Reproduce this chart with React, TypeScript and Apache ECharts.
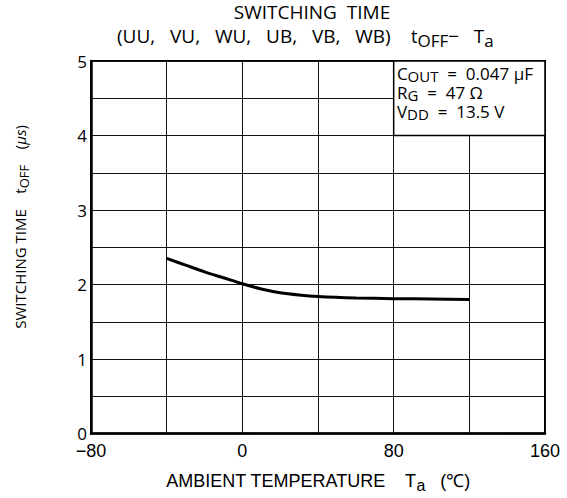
import React, { useEffect, useRef } from "react";
import * as echarts from "echarts";

const temps = [-40, -30, -20, -10, 0, 10, 20, 30, 40, 60, 80, 100, 120];
const toffValues = [2.35, 2.26, 2.17, 2.09, 2.01, 1.94, 1.89, 1.86, 1.84, 1.82, 1.81, 1.805, 1.8];
const xTickLabels = [-80, 0, 80, 160];
const yTickLabels = [0, 1, 2, 3, 4, 5];
const conditionBox = { x0: 80, x1: 160, y0: 4, y1: 5 };

export default function App() {
  const ref = useRef<HTMLDivElement>(null);
  useEffect(() => {
    if (!ref.current) return;
    const chart = echarts.init(ref.current, null, { renderer: "svg" });
    const font = "Open Sans";
    const sans = "Liberation Sans";
    chart.setOption({
      animation: false,
      backgroundColor: "#fff",
      grid: {
        left: 91,
        top: 61,
        right: 22,
        bottom: 57,
        show: true,
        borderColor: "#000",
        borderWidth: 2,
        backgroundColor: "transparent",
      },
      xAxis: {
        type: "value",
        min: -80,
        max: 160,
        interval: 40,
        axisLine: { show: true, onZero: false, lineStyle: { color: "#000", width: 2.5 } },
        axisTick: { show: false },
        splitLine: { show: true, lineStyle: { color: "#111", width: 1 } },
        axisLabel: {
          color: "#000",
          fontFamily: sans,
          fontSize: 18,
          margin: 8,
          formatter: (v: number) =>
            xTickLabels.includes(v) ? String(v).replace("-", "−") : "",
        },
        name: "{m|AMBIENT TEMPERATURE    T}{s|a}{m|   (℃)}",
        nameLocation: "middle",
        nameGap: 36,
        nameTextStyle: {
          rich: {
            m: { fontFamily: sans, fontSize: 18, color: "#000", lineHeight: 22 },
            s: { fontFamily: sans, fontSize: 16, color: "#000", lineHeight: 22, padding: [9, 0, 0, 0] },
          },
        },
      },
      yAxis: {
        type: "value",
        min: 0,
        max: 5,
        interval: 0.5,
        axisLine: { show: true, onZero: false, lineStyle: { color: "#000", width: 2.5 } },
        axisTick: { show: false },
        splitLine: { show: true, lineStyle: { color: "#111", width: 1 } },
        axisLabel: {
          color: "#000",
          fontFamily: font,
          fontSize: 17,
          margin: 4,
          formatter: (v: number) => (yTickLabels.includes(v) ? String(v) : ""),
        },
      },
      graphic: [
        {
          type: "text",
          x: 312,
          y: 2,
          style: {
            text: "SWITCHING  TIME",
            align: "center",
            fontFamily: font,
            fontSize: 19,
            fill: "#000",
          },
        },
        {
          type: "text",
          x: 117,
          y: 26,
          style: {
            text: "(UU,   VU,   WU,   UB,   VB,   WB)",
            fontFamily: font,
            fontSize: 19,
            fill: "#000",
          },
        },
        {
          type: "text",
          x: 411,
          y: 24,
          style: {
            text: "{t|t}{s|OFF}{m|−   T}{s|a}",
            rich: {
              m: { fontFamily: font, fontSize: 19, fill: "#000", lineHeight: 24 },
              t: { fontFamily: font, fontSize: 18, fill: "#000", lineHeight: 24 },
              s: { fontFamily: font, fontSize: 17, fill: "#000", lineHeight: 24, padding: [8, 0, 0, 0] },
            },
          },
        },
        {
          type: "text",
          x: 20,
          y: 227,
          rotation: Math.PI / 2,
          style: {
            text: "{m|SWITCHING TIME    t}{s|OFF}{m|    (}{i|μs}{m|)}",
            align: "center",
            verticalAlign: "middle",
            rich: {
              m: { fontFamily: font, fontSize: 15, fill: "#000", lineHeight: 18 },
              i: { fontFamily: font, fontSize: 15, fontStyle: "italic", fill: "#000", lineHeight: 18 },
              s: { fontFamily: font, fontSize: 13, fill: "#000", lineHeight: 18, padding: [7, 0, 0, 0] },
            },
          },
        },
      ],
      series: [
        {
          type: "line",
          data: temps.map((t, i) => [t, toffValues[i]]),
          smooth: 0.3,
          symbol: "none",
          lineStyle: { color: "#000", width: 3 },
          z: 3,
          markArea: {
            silent: true,
            itemStyle: { color: "#fff", borderColor: "#000", borderWidth: 1.5, opacity: 1 },
            label: {
              show: true,
              position: "insideTopLeft",
              distance: 4,
              formatter:
                "{m|C}{s|OUT}{m|  =  0.047 μF}\n{m|R}{s|G}{m|  =  47 Ω}\n{m|V}{s|DD}{m|  =  13.5 V}",
              rich: {
                m: { fontFamily: font, fontSize: 17, color: "#000", lineHeight: 19 },
                s: { fontFamily: font, fontSize: 15, color: "#000", lineHeight: 19, padding: [4, 0, 0, 0] },
              },
            },
            data: [
              [
                { coord: [conditionBox.x0, conditionBox.y0] },
                { coord: [conditionBox.x1, conditionBox.y1] },
              ],
            ],
          },
        },
      ],
    });
    return () => chart.dispose();
  }, []);
  return (
    <div
      ref={ref}
      style={{ position: "fixed", left: 0, top: 0, width: 567, height: 498 }}
    />
  );
}
